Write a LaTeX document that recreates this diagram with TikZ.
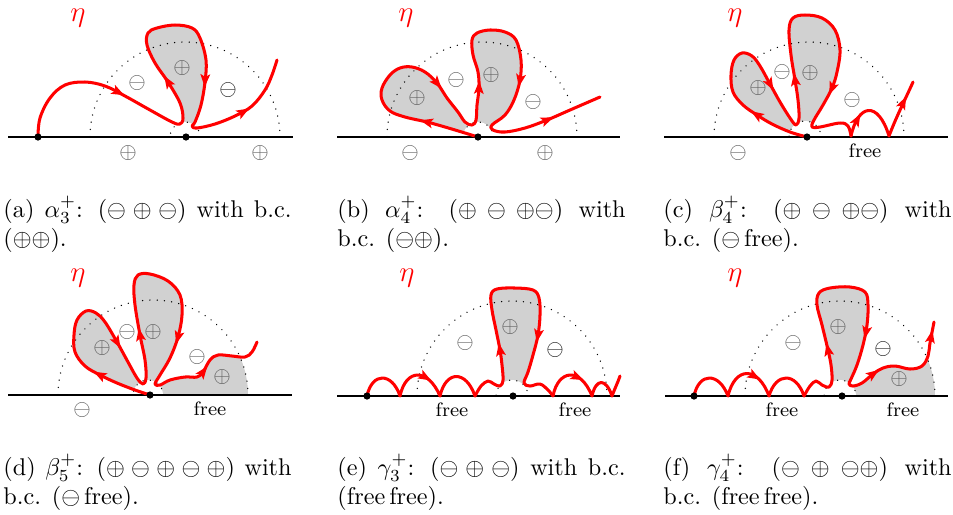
\documentclass[tikz,border=0pt]{standalone}
\newcommand{\rtip}[3]{\fill[red,shift={(#1,#2)},rotate=#3] (7,0) -- (-6,5) -- (-3,0) -- (-6,-5) -- cycle;}
\begin{document}
\begin{tikzpicture}[x=0.413pt,y=-0.413pt,
  curve/.style={red, line width=1.25pt, line cap=round, line join=round},
  baseln/.style={black, line width=1pt},
  dotarc/.style={black, line width=0.6pt, dash pattern=on 0.01pt off 3pt, line cap=round},
  lobe/.style={fill=black!18},
  sg/.style={text=black!62, font=\small, inner sep=0},
  sk/.style={text=black!88, font=\small, inner sep=0},
  eta/.style={text=red, font=\large, inner sep=0},
  freelab/.style={font=\footnotesize, inner sep=0},
  captext/.style={anchor=base west, inner sep=0},
  smoothp/.style={smooth, tension=0.6}]
\useasboundingbox (0,0) rectangle (953,514);

% ================= gray fills =================
% (a)
\fill[lobe] plot[smoothp] coordinates {(180,124)(183,118)(180,103)(168,82)(155,63)(147,45)(148,33)(157,28)(175,25)(192,28)(200,38)(206,60)(205,82)(201,105)(195,122)(192,126)} -- cycle;
% (b)
\fill[lobe] plot[smoothp] coordinates {(478,137)(465,133)(445,127)(427,122)(405,117)(390,111)(382,100)(382,88)(390,75)(400,68)(412,67)(425,72)(437,83)(447,98)(458,112)(465,122)(472,125)} -- cycle;
\fill[lobe] plot[smoothp] coordinates {(472,125)(476,120)(477,105)(479,88)(478,72)(473,55)(472,40)(477,33)(490,30)(505,32)(516,40)(521,60)(520,80)(514,100)(505,115)(492,125)(493,130)} -- cycle;
% (c)
\fill[lobe] plot[smoothp] coordinates {(807,137)(790,132)(772,124)(757,115)(743,105)(733,92)(731,75)(734,60)(742,53)(752,56)(760,66)(770,84)(780,102)(790,118)(796,125)} -- cycle;
\fill[lobe] plot[smoothp] coordinates {(796,125)(799,118)(798,100)(795,80)(791,55)(789,30)(793,18)(805,15)(822,18)(835,30)(840,50)(837,72)(832,88)(823,105)(814,120)(812,127)} -- cycle;
% (d)
\fill[lobe] plot[smoothp] coordinates {(150,395)(135,390)(117,383)(100,375)(85,366)(75,352)(74,335)(77,320)(86,311)(96,313)(105,322)(117,342)(128,362)(137,378)(143,384)} -- cycle;
\fill[lobe] plot[smoothp] coordinates {(143,384)(146,378)(145,360)(140,335)(135,305)(134,285)(138,275)(150,274)(168,281)(180,295)(182,315)(178,337)(170,358)(160,375)(155,384)(160,385)} -- cycle;
\begin{scope}
  \clip (153,395) circle[radius=95];
  \fill[lobe] plot[smoothp] coordinates {(155,384)(160,385)(170,380)(185,377)(197,377)(203,372)(210,360)(218,355)(232,356)(245,357)(252,352)(257,342)} -- (265,342) -- (265,395) -- (155,395) -- cycle;
\end{scope}
% (e)
\fill[lobe] plot[smoothp] coordinates {(500,386)(503,380)(502,365)(500,350)(496,330)(492,310)(491,295)(497,289)(515,288)(533,290)(539,298)(540,315)(538,335)(533,355)(528,372)(524,383)(530,386)} -- cycle;
% (f)
\fill[lobe] plot[smoothp] coordinates {(829,387)(832,380)(831,365)(828,350)(822,325)(817,305)(819,293)(830,288)(850,287)(865,292)(868,305)(867,325)(863,345)(857,365)(851,379)(849,384)(853,386)} -- cycle;
\begin{scope}
  \clip (840,396) circle[radius=95];
  \fill[lobe] plot[smoothp] coordinates {(849,384)(853,386)(862,383)(873,374)(883,368)(895,366)(910,369)(922,366)(928,356)(930,343)(934,322)} -- (945,322) -- (945,396) -- (849,396) -- cycle;
\end{scope}

% white small half-disks
\fill[white] (185,137) circle[radius=15];
\fill[white] (478,137) circle[radius=15];
\fill[white] (805,137) circle[radius=16];
\fill[white] (148,395) circle[radius=15];
\fill[white] (512,396) circle[radius=16];
\fill[white] (840,396) circle[radius=16];

% ================= dotted arcs =================
\begin{scope}
  \clip (0,0) rectangle (953,137);
  \draw[dotarc] (185,137) circle[radius=95];
  \draw[dotarc] (185,137) circle[radius=15];
  \draw[dotarc] (482,137) circle[radius=95];
  \draw[dotarc] (478,137) circle[radius=15];
  \draw[dotarc] (809,137) circle[radius=95];
  \draw[dotarc] (805,137) circle[radius=16];
\end{scope}
\begin{scope}
  \clip (0,260) rectangle (953,395.5);
  \draw[dotarc] (153,395) circle[radius=95];
  \draw[dotarc] (148,395) circle[radius=15];
  \draw[dotarc] (512,396) circle[radius=95];
  \draw[dotarc] (512,396) circle[radius=16];
  \draw[dotarc] (840,396) circle[radius=95];
  \draw[dotarc] (840,396) circle[radius=16];
\end{scope}

% ================= baselines =================
\draw[baseln] (8,137) -- (293,137);
\draw[baseln] (337,137) -- (620,137);
\draw[baseln] (664,137) -- (948,137);
\draw[baseln] (8,395) -- (292,395);
\draw[baseln] (337,396) -- (620,396);
\draw[baseln] (665,396) -- (948,396);

% ================= red curves =================
% (a)
\draw[curve] plot[smoothp] coordinates {(38,137)(40,118)(50,98)(65,85)(85,82)(105,86)(125,96)(150,110)(172,122)(180,124)(183,118)(180,103)(168,82)(155,63)(147,45)(148,33)(157,28)(175,25)(192,28)(200,38)(206,60)(205,82)(201,105)(195,122)(192,126)(197,128)(215,124)(235,116)(252,106)(265,90)(272,75)(277,60)};
\rtip{118}{92}{-27} \rtip{168}{82}{122} \rtip{205}{80}{267} \rtip{243}{112}{30}
% (b)
\draw[curve] plot[smoothp] coordinates {(478,137)(465,133)(445,127)(427,122)(405,117)(390,111)(382,100)(382,88)(390,75)(400,68)(412,67)(425,72)(437,83)(447,98)(458,112)(465,122)(472,125)(476,120)(477,105)(479,88)(478,72)(473,55)(472,40)(477,33)(490,30)(505,32)(516,40)(521,60)(520,80)(514,100)(505,115)(492,125)(493,130)(505,132)(525,128)(547,120)(570,110)(600,97)};
\rtip{427}{122}{166} \rtip{437}{83}{-50} \rtip{479}{88}{88} \rtip{520}{80}{260} \rtip{547}{120}{22}
% (c)
\draw[curve] plot[smoothp] coordinates {(807,137)(790,132)(772,124)(757,115)(743,105)(733,92)(731,75)(734,60)(742,53)(752,56)(760,66)(770,84)(780,102)(790,118)(796,125)(799,118)(798,100)(795,80)(791,55)(789,30)(793,18)(805,15)(822,18)(835,30)(840,50)(837,72)(832,88)(823,105)(814,120)(812,127)(820,127)(840,123)(848,126)(851,136)};
\draw[curve] (851,136) .. controls (858,104) and (878,100) .. (889,136) .. controls (897,115) and (905,100) .. (913,82);
\rtip{757}{115}{147} \rtip{770}{84}{-61} \rtip{795}{80}{99} \rtip{832}{88}{247} \rtip{857}{120}{61} \rtip{903}{103}{65}
% (d)
\draw[curve] plot[smoothp] coordinates {(150,395)(135,390)(117,383)(100,375)(85,366)(75,352)(74,335)(77,320)(86,311)(96,313)(105,322)(117,342)(128,362)(137,378)(143,384)(146,378)(145,360)(140,335)(135,305)(134,285)(138,275)(150,274)(168,281)(180,295)(182,315)(178,337)(170,358)(160,375)(155,384)(160,385)(170,380)(185,377)(197,377)(203,372)(210,360)(218,355)(232,356)(245,357)(252,352)(257,342)};
\rtip{100}{375}{152} \rtip{117}{342}{-60} \rtip{140}{335}{100} \rtip{178}{337}{254} \rtip{203}{372}{53}
% (e)
\draw[curve] (367,396) .. controls (372,372) and (392,372) .. (400,396) .. controls (406,368) and (428,368) .. (440,396) .. controls (446,370) and (466,370) .. (475,396);
\draw[curve] plot[smoothp] coordinates {(475,396)(481,386)(488,381)(494,384)(500,386)(503,380)(502,365)(500,350)(496,330)(492,310)(491,295)(497,289)(515,288)(533,290)(539,298)(540,315)(538,335)(533,355)(528,372)(524,383)(530,386)(540,384)(548,390)(553,396)};
\draw[curve] (553,396) .. controls (558,370) and (580,366) .. (592,396) .. controls (596,378) and (606,378) .. (612,396) .. controls (615,388) and (618,382) .. (620,376);
\rtip{425}{377}{-30} \rtip{500}{350}{100} \rtip{538}{335}{260} \rtip{577}{377}{-25}
% (f)
\draw[curve] (694,396) .. controls (699,372) and (719,372) .. (728,396) .. controls (735,366) and (758,366) .. (769,396) .. controls (776,372) and (796,372) .. (804,396);
\draw[curve] plot[smoothp] coordinates {(804,396)(810,386)(816,381)(822,385)(829,387)(832,380)(831,365)(828,350)(822,325)(817,305)(819,293)(830,288)(850,287)(865,292)(868,305)(867,325)(863,345)(857,365)(851,379)(849,384)(853,386)(862,383)(873,374)(883,368)(895,366)(910,369)(922,366)(928,356)(930,343)(934,322)};
\rtip{754}{376}{-30} \rtip{828}{350}{103} \rtip{866}{332}{258} \rtip{873}{374}{35} \rtip{931}{337}{79}

% ================= marked points =================
\foreach \px/\py in {38/137,186/137,478/137,807/137,150/395,367/396,513/396,694/396,842/396}
  \fill (\px,\py) circle[radius=3.6];

% ================= labels =================
% (a)
\node[eta] (etaa) at (78,18) {$\eta$};
\node[sg] (a1) at (137,83) {$\ominus$};
\node[sg] (a2) at (182,68) {$\oplus$};
\node[sk] (a3) at (228,90) {$\ominus$};
\node[sg] (a4) at (128,153) {$\oplus$};
\node[sg] (a5) at (260,153) {$\oplus$};
% (b)
\node[eta] (etab) at (406,18) {$\eta$};
\node[sg] (b1) at (456,80) {$\ominus$};
\node[sg] (b2) at (491,75) {$\oplus$};
\node[sg] (b3) at (417,98) {$\oplus$};
\node[sg] (b4) at (533,102) {$\ominus$};
\node[sg] (b5) at (410,153) {$\ominus$};
\node[sg] (b6) at (545,153) {$\oplus$};
% (c)
\node[eta] (etac) at (735,18) {$\eta$};
\node[sg] (c1) at (782,72) {$\ominus$};
\node[sg] (c2) at (810,73) {$\oplus$};
\node[sg] (c3) at (758,88) {$\oplus$};
\node[sg] (c4) at (852,100) {$\ominus$};
\node[sg] (c5) at (738,153) {$\ominus$};
\node[freelab] (c6) at (865,151) {free};
% (d)
\node[eta] (etad) at (78,278) {$\eta$};
\node[sg] (d1) at (127,332) {$\ominus$};
\node[sg] (d2) at (153,332) {$\oplus$};
\node[sg] (d3) at (102,348) {$\oplus$};
\node[sg] (d4) at (197,357) {$\ominus$};
\node[sg] (d5) at (222,377) {$\oplus$};
\node[sg] (d6) at (82,410) {$\ominus$};
\node[freelab] (d7) at (210,409) {free};
% (e)
\node[eta] (etae) at (407,278) {$\eta$};
\node[sg] (e1) at (465,343) {$\ominus$};
\node[sg] (e2) at (510,327) {$\oplus$};
\node[sk] (e3) at (555,350) {$\ominus$};
\node[freelab] (e4) at (452,410) {free};
\node[freelab] (e5) at (575,410) {free};
% (f)
\node[eta] (etaf) at (735,278) {$\eta$};
\node[sg] (f1) at (793,343) {$\ominus$};
\node[sg] (f2) at (838,327) {$\oplus$};
\node[sk] (f3) at (883,349) {$\ominus$};
\node[sg] (f4) at (899,379) {$\oplus$};
\node[freelab] (f5) at (782,410) {free};
\node[freelab] (f6) at (903,410) {free};

% ================= captions =================
\node[captext] (capa) at (3,217) {\parbox[t]{119pt}{(a) $\alpha_3^+$: $(\ominus\oplus\ominus)$ with b.c.\linebreak $(\oplus\oplus)$.}};
\node[captext] (capb) at (337,217) {\parbox[t]{119pt}{(b) $\alpha_4^+$: $(\oplus\ominus\oplus\ominus)$ with\linebreak b.c. $(\ominus\oplus)$.}};
\node[captext] (capc) at (663,217) {\parbox[t]{119pt}{(c) $\beta_4^+$: $(\oplus\ominus\oplus\ominus)$ with\linebreak b.c. ($\ominus$\,free).}};
\node[captext] (capd) at (3,475) {\parbox[t]{119pt}{(d) $\beta_5^+$: $(\oplus\ominus\oplus\ominus\oplus)$ with\linebreak b.c. ($\ominus$\,free).}};
\node[captext] (cape) at (337,475) {\parbox[t]{119pt}{(e) $\gamma_3^+$: $(\ominus\oplus\ominus)$ with b.c.\linebreak (free\,free).}};
\node[captext] (capf) at (663,475) {\parbox[t]{119pt}{(f) $\gamma_4^+$: $(\ominus\oplus\ominus\oplus)$ with\linebreak b.c. (free\,free).}};
\end{tikzpicture}
\end{document}
